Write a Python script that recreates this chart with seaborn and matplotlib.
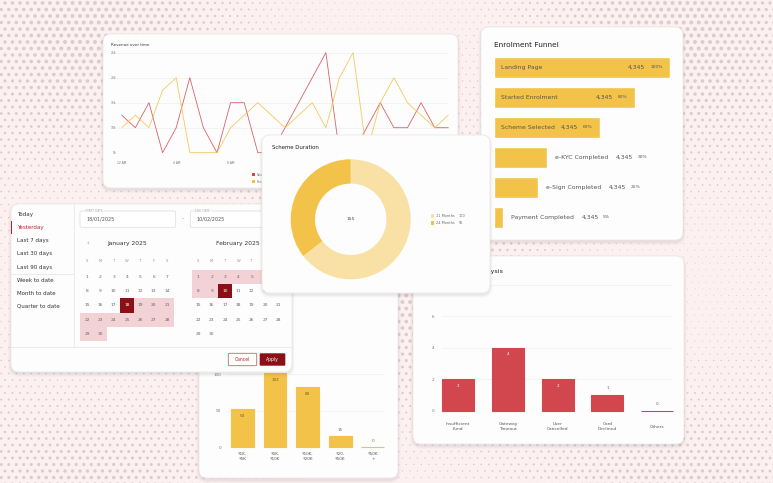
import matplotlib
matplotlib.use("Agg")
import matplotlib.pyplot as plt
from matplotlib.patches import FancyBboxPatch, Rectangle
import seaborn as sns
import numpy as np

W, H = 773, 483

# ---- data ----
hours = list(range(25))
hour_ticks = [0, 4, 8, 12, 16, 20, 24]
hour_labels = ["12 AM", "4 AM", "8 AM", "12 PM", "4 PM", "8 PM", "12 AM"]
rev_ticks = [5, 10, 15, 20, 25]
rev_tick_labels = ["5k", "10k", "15k", "20k", "25k"]
rev_new = [12.5, 10, 15, 5, 10, 20, 10, 5, 15, 15, 5, 5, 10, 15, 20, 25,
           5, 5, 10, 15, 10, 10, 15, 10, 10]
rev_renewal = [10, 12.5, 10, 17.5, 20, 5, 5, 5, 10, 12.5, 15, 12.5, 10, 12.5,
               15, 10, 20, 25, 5, 15, 20, 15, 12.5, 10, 12.5]
rev_names = ["New", "Renewal"]

funnel_stages = ["Landing Page", "Started Enrolment", "Scheme Selected",
                 "e-KYC Completed", "e-Sign Completed", "Payment Completed"]
funnel_pct = [100, 80, 60, 30, 25, 5]
funnel_counts = ["4,345", "4,345", "4,345", "4,345", "4,345", "4,345"]

scheme_labels = ["11 Months", "24 Months"]
scheme_values = [100, 55]

presets = ["Today", "Yesterday", "Last 7 days", "Last 30 days", "Last 90 days",
           "Week to date", "Month to date", "Quarter to date"]
selected_preset = "Yesterday"
week_days = ["S", "M", "T", "W", "T", "F", "S"]
month_names = ["January 2025", "February 2025"]
month_days = [30, 30]
range_start = (0, 18)
range_end = (1, 10)
start_date = "18/01/2025"
end_date = "10/02/2025"

amount_bands = ["₹1K-\n₹5K", "₹5K-\n₹10K", "₹10K-\n₹20K", "₹20-\n₹50K", "₹50K\n+"]
amount_counts = [53, 102, 83, 15, 0]

failure_reasons = ["Insufficient\nFund", "Gateway\nTimeout", "User\nCancelled",
                   "Card\nDeclined", "Others"]
failure_counts = [2, 4, 2, 1, 0]

RED = "#d2464e"
YEL = "#f3c349"
LIGHT = "#f9e1a6"
DARK_RED = "#8a0f16"
PINK = "#f3d2d5"
TXT = "#555555"

sns.set_theme(style="white")
plt.rcParams["font.family"] = ["DejaVu Sans"]

fig = plt.figure(figsize=(W / 100, H / 100), dpi=100)
fig.patch.set_facecolor("#fcf0f0")


def rect(x, y, w, h):
    return [x / W, 1 - (y + h) / H, w / W, h / H]


def card(x, y, w, h, z):
    ax = fig.add_axes(rect(x, y, w, h), zorder=z)
    ax.set_xlim(0, w)
    ax.set_ylim(h, 0)
    ax.axis("off")
    for d, a in [(6, 0.02), (3.5, 0.03), (1.5, 0.05)]:
        ax.add_patch(FancyBboxPatch((-d / 2, 2 - d / 2), w + d, h + d,
                                    boxstyle=f"round,pad=0,rounding_size={8 + d / 2}",
                                    fc="#4a3a3c", ec="none", alpha=a, clip_on=False))
    ax.add_patch(FancyBboxPatch((0, 0), w, h, boxstyle="round,pad=0,rounding_size=8",
                                fc="#fdfdfd", ec="#ebe5e5", lw=0.5, clip_on=False))
    return ax


def chart(x, y, w, h, z):
    ax = fig.add_axes(rect(x, y, w, h), zorder=z)
    ax.set_facecolor("none")
    sns.despine(ax=ax, left=True, bottom=True)
    ax.tick_params(length=0, colors="#777")
    return ax


# ---- halftone background ----
bg = fig.add_axes([0, 0, 1, 1], zorder=-5)
bg.set_xlim(0, W)
bg.set_ylim(H, 0)
bg.axis("off")
gy, gx = np.mgrid[-10:H + 10:6.5, -10:W + 10:7.5]
gx = gx + (np.arange(gy.shape[0])[:, None] % 2) * 3.75
f = 0.5 + 0.5 * np.sin(gx / 95 + 0.7) * np.cos(gy / 80 - 0.4)
r = 0.5 + 1.5 * f ** 1.3
bg.scatter(gx.ravel(), gy.ravel(), s=(1.44 * r.ravel()) ** 2, c="#d9cdcf",
           linewidths=0)

# ---- Revenue over time ----
rc = card(103, 34, 355, 154, 10)
rc.text(8, 11, "Revenue over time", fontsize=2.9, color="#333", va="center")
ra = chart(117, 52.7, 332, 100, 11)
sns.lineplot(x=hours, y=rev_new, ax=ra, color=RED, lw=0.6, alpha=0.85)
sns.lineplot(x=hours, y=rev_renewal, ax=ra, color=YEL, lw=0.6, alpha=0.9)
for ln in ra.lines:
    ln.set_clip_on(False)
ra.set_xlim(-0.35, 24.05)
ra.set_ylim(5, 25)
ra.set_yticks(rev_ticks, rev_tick_labels, fontsize=2.2)
ra.set_xticks(hour_ticks, hour_labels, fontsize=2.2)
ra.tick_params(axis="y", pad=0.5)
ra.tick_params(axis="x", pad=6)
ra.grid(axis="y", color="#f1eeee", lw=0.5)
ra.set_xlabel("")
ra.set_ylabel("")
for k, (name, col) in enumerate(zip(rev_names, [RED, YEL])):
    rc.add_patch(Rectangle((148.5, 139.5 + 7 * k), 3, 3, fc=col, ec="none"))
    rc.text(154, 141 + 7 * k, name, fontsize=2.2, color="#777", va="center")

# ---- Enrolment Funnel ----
fc = card(481, 27, 202, 213, 20)
fc.text(13.3, 18, "Enrolment Funnel", fontsize=5.3, color="#222", va="center")
fa = chart(494.3, 52.5, 175.7, 180, 21)
sns.barplot(x=funnel_pct, y=funnel_stages, orient="h", color=YEL, width=0.72,
            saturation=1, ax=fa)
fa.set_xlim(0, 100)
fa.set_ylim(5.5, -0.5)
fa.axis("off")
for i, (stage, pct, cnt) in enumerate(zip(funnel_stages, funnel_pct, funnel_counts)):
    kw = dict(textcoords="offset points", va="center", color=TXT)
    if pct >= 50:
        fa.annotate(stage, (0, i), xytext=(5, 0), ha="left", fontsize=4.4, **kw)
        p = fa.annotate(f"{pct}%", (pct, i), xytext=(-5.3, 0), ha="right",
                        fontsize=3.2, **kw)
        fa.annotate(cnt, xy=(0, 0.5), xycoords=p, xytext=(-3.6, 0), ha="right",
                    fontsize=4.4, **kw)
    else:
        t = fa.annotate(stage, (pct, i), xytext=(5.4, 0), ha="left", fontsize=4.4,
                        annotation_clip=False, **kw)
        c = fa.annotate(cnt, xy=(1, 0.5), xycoords=t, xytext=(5.8, 0), ha="left",
                        fontsize=4.4, **kw)
        fa.annotate(f"{pct}%", xy=(1, 0.5), xycoords=c, xytext=(3.1, 0), ha="left",
                    fontsize=3.2, **kw)

# ---- Payment failure analysis ----
pc = card(413, 256, 271, 188, 30)
pc.text(90.3, 15.7, "Payment Failure Analysis", ha="right", va="center",
        fontsize=4.6, color="#222")
fb = chart(441.7, 285, 231.6, 125.7, 31)
sns.barplot(x=failure_reasons, y=failure_counts, color=RED, width=0.64,
            saturation=1, edgecolor=RED, linewidth=0.8, ax=fb)
for b in fb.patches:
    b.set_clip_on(False)
fb.set_xlim(-0.334, 4.326)
fb.set_ylim(0, 8)
fb.set_yticks([0, 2, 4, 6, 8])
fb.grid(axis="y", color="#f1eeee", lw=0.5)
fb.set_axisbelow(True)
fb.tick_params(axis="y", labelsize=3, pad=5.5)
fb.tick_params(axis="x", labelsize=3.2, pad=11.5, labelcolor="#555")
for lab in fb.get_xticklabels():
    lab.set_va("center")
fb.set_xlabel("")
fb.set_ylabel("")
for i, v in enumerate(failure_counts):
    if v >= 2:
        fb.annotate(str(v), (i, v), xytext=(0, -4.6), textcoords="offset points",
                    ha="center", va="center", fontsize=3, color="white")
    else:
        fb.annotate(str(v), (i, v), xytext=(0, 4.8), textcoords="offset points",
                    ha="center", va="center", fontsize=3, color="#666")

# ---- Amount distribution ----
ac = card(199, 280, 199, 198, 40)
ab = chart(226.7, 367, 157.6, 80.3, 41)
sns.barplot(x=amount_bands, y=amount_counts, color=YEL, width=0.7, saturation=1,
            edgecolor=YEL, linewidth=0.8, ax=ab)
for b in ab.patches:
    b.set_clip_on(False)
ab.set_xlim(-0.48, 4.35)
ab.set_ylim(0, 110)
ab.set_yticks([0, 50, 100])
ab.grid(axis="y", color="#f1eeee", lw=0.5)
ab.set_axisbelow(True)
ab.tick_params(axis="y", labelsize=3, pad=4)
ab.tick_params(axis="x", labelsize=3, pad=3.7, labelcolor="#555")
ab.set_xlabel("")
ab.set_ylabel("")
for i, v in enumerate(amount_counts):
    if v >= 30:
        ab.annotate(str(v), (i, v), xytext=(0, -5.3), textcoords="offset points",
                    ha="center", va="center", fontsize=3, color="#6b5a2a")
    else:
        ab.annotate(str(v), (i, v), xytext=(0, 4.8), textcoords="offset points",
                    ha="center", va="center", fontsize=3, color="#666")

# ---- Date range picker ----
cc = card(11, 204, 281, 168, 50)
row_y = 10.7
for k, name in enumerate(presets):
    if k == 5:
        cc.plot([0, 63.3], [row_y - 6.5, row_y - 6.5], color="#e6e2e2", lw=0.5)
    sel = name == selected_preset
    cc.text(6.3, row_y, name, fontsize=4.0, va="center",
            color="#b3262e" if sel else "#333")
    if sel:
        cc.add_patch(Rectangle((0, row_y - 6.5), 1.2, 13, fc="#b3262e", ec="none"))
    row_y += 13.1
cc.plot([63.3, 63.3], [0, 142.7], color="#e6e2e2", lw=0.5)
cc.plot([0, 281], [142.7, 142.7], color="#e6e2e2", lw=0.5)

for fx, lab, val in [(69, "START DATE", start_date), (179.3, "END DATE", end_date)]:
    cc.add_patch(FancyBboxPatch((fx, 7), 95.7, 16.3, boxstyle="round,pad=0,rounding_size=1.5",
                                fc="white", ec="#dddada", lw=0.5))
    cc.text(fx + 5, 7, lab, fontsize=2.2, color="#aaa", va="center",
            bbox=dict(fc="white", ec="none", pad=0.3))
    cc.text(fx + 6, 15.3, val, fontsize=3.5, color="#555", va="center")
cc.text(171.7, 15.3, "–", fontsize=3.5, color="#999", va="center", ha="center")

cc.text(76.7, 39.7, "‹", fontsize=5, color="#999", va="center", ha="center")
col_x = [76.0, 187.3]
for m, (mname, ndays) in enumerate(zip(month_names, month_days)):
    x0 = col_x[m]
    cc.text(x0 + 40, 39.7, mname, fontsize=4.3, color="#333", va="center", ha="center")
    for c, wd in enumerate(week_days):
        cc.text(x0 + 13.33 * c, 57, wd, fontsize=2.7, color="#999",
                va="center", ha="center")
    for d in range(1, ndays + 1):
        rr, c = divmod(d - 1, 7)
        cx, cy = x0 + 13.33 * c, 72.7 + 14.33 * rr
        key = (m, d)
        in_range = range_start <= key <= range_end
        is_end = key in (range_start, range_end)
        if in_range:
            cc.add_patch(Rectangle((cx - 6.67, cy - 7.17), 13.34, 14.34,
                                   fc=DARK_RED if is_end else PINK, ec="none"))
        cc.text(cx, cy, str(d), fontsize=3.2, va="center", ha="center",
                color="white" if is_end else "#666")

cc.add_patch(FancyBboxPatch((217.3, 149.3), 28.4, 12.4, boxstyle="round,pad=0,rounding_size=1",
                            fc="white", ec="#c7656c", lw=0.6))
cc.text(231.5, 155.5, "Cancel", fontsize=3.3, color="#b3262e", ha="center", va="center")
cc.add_patch(FancyBboxPatch((248.7, 149.3), 25.6, 12.4, boxstyle="round,pad=0,rounding_size=1",
                            fc=DARK_RED, ec="none"))
cc.text(261.5, 155.5, "Apply", fontsize=3.3, color="white", ha="center", va="center")

# ---- Scheme Duration ----
sc = card(262, 135, 228, 158, 60)
sc.text(10.3, 12.7, "Scheme Duration", fontsize=3.9, color="#222", va="center")
pa = fig.add_axes(rect(290.7, 159.3, 120, 120), zorder=61)
pa.pie(scheme_values, colors=[LIGHT, YEL], startangle=90, counterclock=False,
       radius=1, wedgeprops=dict(width=0.405, edgecolor="none"))
pa.set_xlim(-1, 1)
pa.set_ylim(-1, 1)
pa.text(0, 0, str(sum(scheme_values)), ha="center", va="center", fontsize=3.2,
        color="#444")
for k, (name, val, col) in enumerate(zip(scheme_labels, scheme_values, [LIGHT, YEL])):
    yy = 81 + 7 * k
    sc.add_patch(Rectangle((168.5, yy - 1.6), 3.2, 3.2, fc=col, ec="none"))
    sc.text(174.5, yy, name, fontsize=2.5, color="#666", va="center")
    sc.text(197, yy, str(val), fontsize=2.5, color="#666", va="center")

fig.savefig("out.png", dpi=100, facecolor=fig.get_facecolor())
